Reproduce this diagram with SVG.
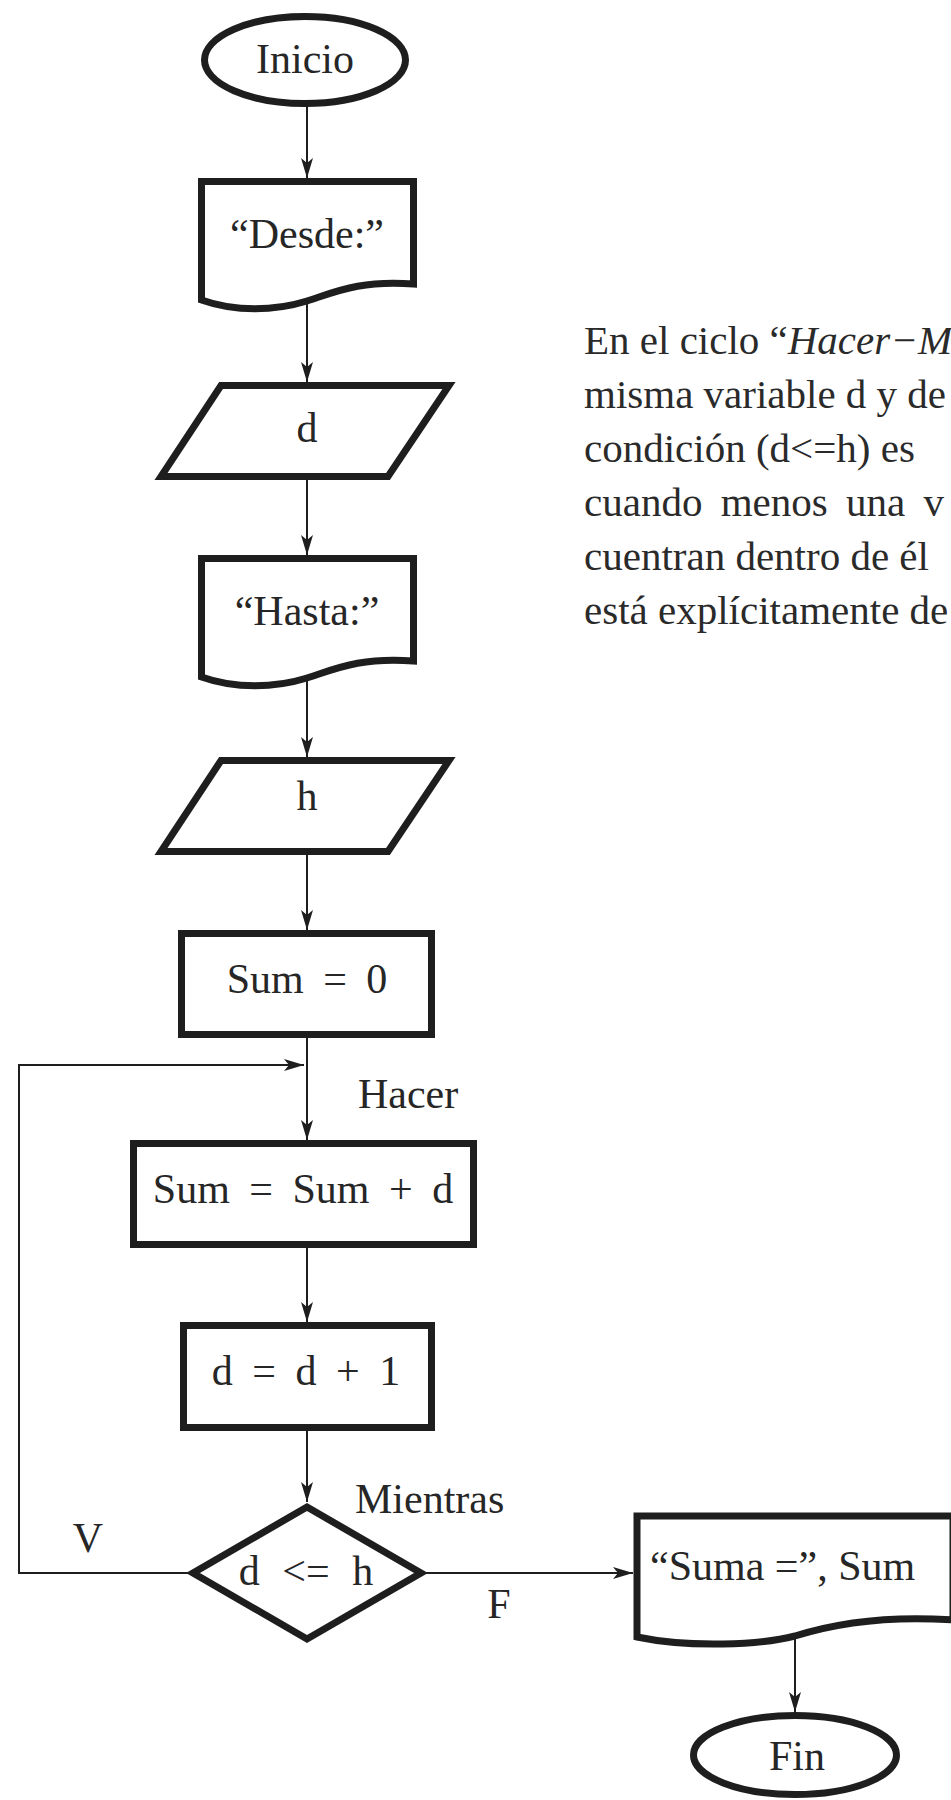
<svg xmlns="http://www.w3.org/2000/svg" width="951" height="1800" viewBox="0 0 951 1800">
  <style>
    .shape { fill: #ffffff; stroke: #1e1e1e; stroke-width: 7; stroke-linejoin: miter; }
    .wire { fill: none; stroke: #1e1e1e; stroke-width: 2; }
    .lbl { font-family: "Liberation Serif", "Times New Roman", serif; font-size: 42px; fill: #262626; }
    .mid { text-anchor: middle; }
    .math { word-spacing: 9px; }
    .para { font-family: "Liberation Serif", "Times New Roman", serif; font-size: 41px; fill: #2a2a2a; }
  </style>
  <defs>
    <marker id="arrow" viewBox="0 0 20 12" refX="20" refY="6" markerWidth="20" markerHeight="12" markerUnits="userSpaceOnUse" orient="auto">
      <path d="M0,0 L20,6 L0,12 L5,6 Z" fill="#1e1e1e"/>
    </marker>
  </defs>

  <rect x="0" y="0" width="951" height="1800" fill="#ffffff"/>

  <!-- connectors -->
  <g id="connectors">
    <line class="wire" x1="307" y1="104" x2="307" y2="178" marker-end="url(#arrow)"/>
    <line class="wire" x1="307" y1="301" x2="307" y2="382" marker-end="url(#arrow)"/>
    <line class="wire" x1="307" y1="480" x2="307" y2="555" marker-end="url(#arrow)"/>
    <line class="wire" x1="307" y1="678" x2="307" y2="757" marker-end="url(#arrow)"/>
    <line class="wire" x1="307" y1="854" x2="307" y2="930" marker-end="url(#arrow)"/>
    <line class="wire" x1="307" y1="1038" x2="307" y2="1140" marker-end="url(#arrow)"/>
    <polyline class="wire" points="190,1573 19,1573 19,1065 304,1065" marker-end="url(#arrow)"/>
    <line class="wire" x1="307" y1="1248" x2="307" y2="1322" marker-end="url(#arrow)"/>
    <line class="wire" x1="307" y1="1431" x2="307" y2="1502" marker-end="url(#arrow)"/>
    <line class="wire" x1="425" y1="1573" x2="633" y2="1573" marker-end="url(#arrow)"/>
    <line class="wire" x1="795" y1="1638" x2="795" y2="1712" marker-end="url(#arrow)"/>
  </g>

  <!-- start terminal -->
  <g id="inicio">
    <ellipse class="shape" cx="305" cy="60" rx="100.5" ry="43.5"/>
    <text class="lbl mid" x="305" y="73">Inicio</text>
  </g>

  <!-- prompt: Desde -->
  <g id="desde">
    <path class="shape" d="M201.5,181.5 H413.5 V284 C360,280 335,292 307,301 C275,311 235,312 201.5,300 Z"/>
    <text class="lbl mid" x="307" y="248">“Desde:”</text>
  </g>

  <!-- input d -->
  <g id="leer-d">
    <polygon class="shape" points="221,385.5 449,385.5 388,476.5 161,476.5"/>
    <text class="lbl mid" x="307" y="442">d</text>
  </g>

  <!-- prompt: Hasta -->
  <g id="hasta">
    <path class="shape" d="M201.5,558.5 H413.5 V661 C360,657 335,669 307,678 C275,688 235,689 201.5,677 Z"/>
    <text class="lbl mid" x="307" y="625">“Hasta:”</text>
  </g>

  <!-- input h -->
  <g id="leer-h">
    <polygon class="shape" points="221,760.5 449,760.5 388,851.5 161,851.5"/>
    <text class="lbl mid" x="307" y="810">h</text>
  </g>

  <!-- Sum = 0 -->
  <g id="init-sum">
    <rect class="shape" x="181.5" y="933.5" width="250" height="101"/>
    <text class="lbl mid math" x="307" y="993">Sum = 0</text>
  </g>

  <text id="lbl-hacer" class="lbl" x="358" y="1108">Hacer</text>

  <!-- Sum = Sum + d -->
  <g id="acumular">
    <rect class="shape" x="133.5" y="1143.5" width="340" height="101"/>
    <text class="lbl mid math" x="303" y="1203">Sum = Sum + d</text>
  </g>

  <!-- d = d + 1 -->
  <g id="incrementar">
    <rect class="shape" x="183.5" y="1325.5" width="248" height="102"/>
    <text class="lbl mid math" x="306" y="1385">d = d + 1</text>
  </g>

  <text id="lbl-mientras" class="lbl" x="355" y="1513">Mientras</text>

  <!-- condition -->
  <g id="condicion">
    <polygon class="shape" points="307,1507 421,1573 307,1639 193,1573"/>
    <text class="lbl mid" x="306" y="1585" style="word-spacing:12px">d &lt;= h</text>
  </g>

  <text id="lbl-v" class="lbl mid" x="88" y="1552">V</text>
  <text id="lbl-f" class="lbl mid" x="499" y="1618">F</text>

  <!-- output -->
  <g id="mostrar">
    <path class="shape" d="M637,1516 H953 V1620 C880,1615 830,1625 795,1636 C760,1645 690,1648 637,1637 Z"/>
    <text class="lbl" x="650" y="1580">“Suma =”, Sum</text>
  </g>

  <!-- end terminal -->
  <g id="fin">
    <ellipse class="shape" cx="795" cy="1755" rx="101.5" ry="39.5"/>
    <text class="lbl mid" x="797" y="1770">Fin</text>
  </g>

  <!-- side note -->
  <g id="nota">
    <text class="para" x="584" y="354">En el ciclo “<tspan font-style="italic">Hacer−M</tspan></text>
    <text class="para" x="584" y="408">misma variable d y de</text>
    <text class="para" x="584" y="462">condición (d&lt;=h) es</text>
    <text class="para" x="584" y="516" style="word-spacing:8px">cuando menos una v</text>
    <text class="para" x="584" y="570">cuentran dentro de él</text>
    <text class="para" x="584" y="624">está explícitamente de</text>
  </g>
</svg>
